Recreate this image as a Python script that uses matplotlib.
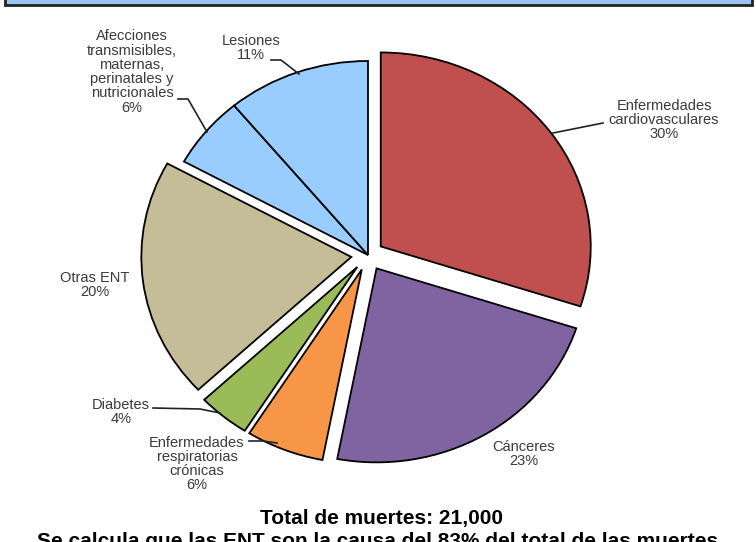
import matplotlib
matplotlib.use("Agg")
import matplotlib.pyplot as plt
from matplotlib.patches import Rectangle

plt.rcParams['font.family'] = ['Liberation Sans', 'DejaVu Sans']

# ---- data (clockwise from 12 o'clock) ----
categories = ["Enfermedades\ncardiovasculares", "Cánceres", "Enfermedades\nrespiratorias\ncrónicas",
              "Diabetes", "Otras ENT", "Afecciones\ntransmisibles,\nmaternas,\nperinatales y\nnutricionales",
              "Lesiones"]
values = [30, 23, 6, 4, 20, 6, 11]
colors = ["#C0504D", "#8064A2", "#F79646", "#9BBB59", "#C4BD97", "#99CCFF", "#99CCFF"]
explode_frac = [0.075, 0.08, 0.08, 0.08, 0.08, 0.0, 0.0]
total_text = "Total de muertes: 21,000"
note_text = "Se calcula que las ENT son la causa del 83% del total de las muertes."

W, H = 756, 542
R = 210
fig = plt.figure(figsize=(W / 100, H / 100), dpi=100)
fig.patch.set_facecolor("white")

# pie axes (pixel-like units, vertically squashed to match the elliptical pie)
k = 210 / 194
ax = fig.add_axes([0, 0, 1, 1])
ax.pie(values, colors=colors, explode=[e * R for e in explode_frac], startangle=90,
       counterclock=False, radius=R, center=(368, (H - 255) * k),
       wedgeprops=dict(edgecolor="black", linewidth=1.3))
ax.set_aspect("auto")
ax.set_xlim(0, W)
ax.set_ylim(0, H * k)
ax.axis("off")

# overlay axes in pixel coordinates (y downward)
ov = fig.add_axes([0, 0, 1, 1])
ov.set_xlim(0, W)
ov.set_ylim(H, 0)
ov.axis("off")
ov.patch.set_alpha(0)

# header bar
ov.add_patch(Rectangle((5, -20), 747, 25, facecolor="#99C4F0", edgecolor="#222222", lw=2))

lbl_color = "#3a3a3a"
fs = 10.5
label_pos = [(664, 120), (524, 454), (197, 464), (121, 412), (95, 285), (132, 72), (251, 48)]
for cat, val, (x, y) in zip(categories, values, label_pos):
    ov.text(x, y, f"{cat}\n{val}%", ha="center", va="center", fontsize=fs,
            color=lbl_color, linespacing=1.02)

# leader lines
leaders = [
    [(603, 123), (553, 133)],
    [(271, 60), (281, 60), (299, 74)],
    [(178, 99), (188, 99), (207, 132)],
    [(153, 408), (200, 409), (220, 413)],
    [(249, 441), (263, 441), (277, 443)],
]
for pts in leaders:
    xs, ys = zip(*pts)
    ov.plot(xs, ys, color="#222222", lw=1.2)

ov.text(382, 524, total_text, ha="center", va="baseline", fontsize=15, fontweight="bold", color="black")
ov.text(380, 547, note_text, ha="center", va="baseline", fontsize=15, fontweight="bold", color="black")

fig.savefig("out.png", dpi=100)
